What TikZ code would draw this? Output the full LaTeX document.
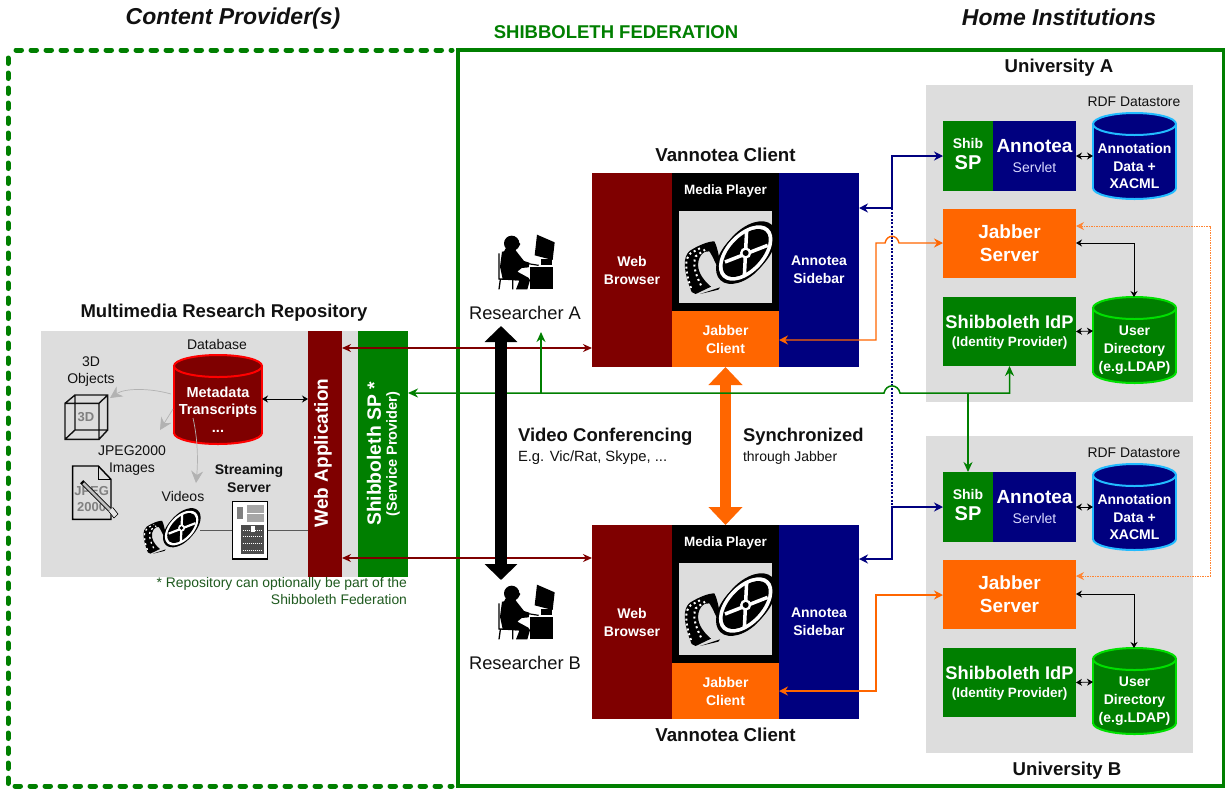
\documentclass[tikz,border=0pt]{standalone}
\usepackage{fontspec}
\setmainfont{Liberation Sans}
\usetikzlibrary{arrows.meta,calc}
\definecolor{cgreen}{HTML}{007F00}
\definecolor{cred}{HTML}{7F0000}
\definecolor{cblue}{HTML}{00007F}
\definecolor{corange}{HTML}{FF6600}
\definecolor{cgray}{HTML}{DDDDDD}
\definecolor{cfoot}{HTML}{1F5A1F}
\definecolor{ctxt}{HTML}{111111}
\definecolor{ccyan}{HTML}{22BBFF}
\definecolor{clime}{HTML}{00E000}
\newcommand\fs[2]{\fontsize{#1}{#2}\selectfont}
\tikzset{
  bx/.style={inner sep=0pt,outer sep=0pt,text=white,align=center,font=\bfseries},
  lab/.style={inner sep=0pt,outer sep=0pt,text=ctxt,align=center},
  redline/.style={{Stealth[length=9pt,width=8pt]}-{Stealth[length=9pt,width=8pt]},draw=cred,line width=1.5pt},
  greenline/.style={draw=cgreen,line width=1.5pt},
  greentip/.style={-{Stealth[length=10pt,width=9pt]}},
  blueline/.style={{Stealth[length=9pt,width=9pt]}-{Stealth[length=9pt,width=9pt]},draw=cblue,line width=1.5pt},
  orangeline/.style={{Stealth[length=9pt,width=9pt]}-{Stealth[length=9pt,width=9pt]},draw=corange,line width=1.4pt},
  blackline/.style={{Stealth[length=6pt,width=7pt]}-{Stealth[length=6pt,width=7pt]},draw=black,line width=.8pt},
  grayarrow/.style={draw=gray!60,line width=.7pt,-{Stealth[length=12pt,width=12pt]},color=gray!60},
}
\newcommand\Bx[7]{%
  \pgfmathsetmacro\bxw{(#4)-(#2)}\pgfmathsetmacro\bxh{(#5)-(#3)}%
  \pgfmathsetmacro\bxx{((#2)+(#4))/2}\pgfmathsetmacro\bxy{((#3)+(#5))/2}%
  \node[bx,#6,minimum width=\bxw pt,minimum height=\bxh pt] (#1) at (\bxx,\bxy) {#7};}
% name, x0, x1, ytop, ybottom, fill, stroke, font, text
\newcommand\Cyl[9]{%
  \pgfmathsetmacro\cx{((#2)+(#3))/2}\pgfmathsetmacro\crx{((#3)-(#2))/2}%
  \pgfmathsetmacro\cyt{(#4)+11}\pgfmathsetmacro\cyb{(#5)-11}\pgfmathsetmacro\cym{((#4)+(#5))/2+10}%
  \draw[fill=#6,draw=#7,line width=2pt] (\cx,\cyb) ellipse [x radius=\crx,y radius=11];
  \fill[#6] (#2,\cyt) rectangle (#3,\cyb);
  \draw[#7,line width=2pt] (#2,\cyt) -- (#2,\cyb) (#3,\cyt) -- (#3,\cyb);
  \draw[fill=#6,draw=#7,line width=2pt] (\cx,\cyt) ellipse [x radius=\crx,y radius=11];
  \node[bx,font=\bfseries#8] (#1) at (\cx,\cym) {#9};}
% film reel: cx, cy, scale (inner coordinates: 3x pixels of the reference crop)
\newcommand\Reel[3]{%
  \begin{scope}[shift={(#1,#2)},scale=#3]
  \begin{scope}[shift={(-50.5,-49)},scale=1/3]
    \fill[black] (50,252) .. controls (25,190) and (22,145) .. (45,128)
       .. controls (70,112) and (100,100) .. (118,100)
       .. controls (132,125) and (132,170) .. (152,212)
       .. controls (128,190) and (118,150) .. (103,130)
       .. controls (85,125) and (65,150) .. (70,180)
       .. controls (75,205) and (95,225) .. (108,236)
       -- (62,258) -- cycle;
    \fill[black] (75,258) -- (135,238) -- (130,245) -- cycle;
    \draw[white,line width=#3*2pt,dash pattern=on 2pt off 3pt] (48,240) .. controls (30,190) and (28,150) .. (48,135) -- (80,118);
    \draw[white,line width=#3*2pt,dash pattern=on 2pt off 3pt] (78,232) .. controls (62,200) and (52,170) .. (62,145) -- (90,125);
    \fill[black] (218,128) ellipse [x radius=106,y radius=62,rotate=47];
    \fill[black] (206,142) ellipse [x radius=102,y radius=62,rotate=47];
    \fill[white] (212,135) ellipse [x radius=100,y radius=58,rotate=47];
    \fill[black] (212,135) ellipse [x radius=88,y radius=47,rotate=47];
    \draw[white,line width=#3*3.5pt] (215,65) -- (208,205) (150,162) -- (278,112);
    \fill[white] (212,135) circle (17);
    \fill[black] (212,135) circle (9);
  \end{scope}
  \end{scope}}
% researcher icon (3x pixels of the crop at the given origin)
\newcommand\Person[2]{%
  \begin{scope}[shift={(#1,#2)},scale=1/3]
    \fill (65,40) circle (23);
    \fill (78,28) -- (91,42) -- (84,54) -- (72,62) -- cycle;
    \fill (50,50) -- (78,55) -- (76,66) -- (40,68) -- cycle;
    \fill (36,65)--(76,60)--(102,93)--(118,98)--(116,112)--(95,114)--(82,125)--(115,143)--(120,150)--(112,178)--(78,178)--(88,152)--(38,147)--(30,110)--cycle;
    \draw[line width=1.3pt] (27,70)--(27,147)--(80,149) (31,149)--(27,178) (68,149)--(68,178);
    \fill (120,112) rectangle (190,178);
    \draw[line width=1.2pt] (108,100) -- (146,106);
    \fill (152,86) rectangle (186,104);
    \fill (141,14)--(194,37)--(188,90)--(134,76)--cycle;
  \end{scope}}
\newcommand\Client[4]{% suffix, dy, title y, title
  \Bx{br#1}{592}{173+#2}{672}{367+#2}{fill=cred,font=\bfseries\fs{14}{18}}{Web\\Browser}
  \Bx{mp#1}{672}{173+#2}{779}{311+#2}{fill=black}{}
  \Bx{jc#1}{672}{311+#2}{779}{367+#2}{fill=corange,font=\bfseries\fs{14}{18}}{Jabber\\Client}
  \Bx{sb#1}{779}{173+#2}{859}{367+#2}{fill=cblue,font=\bfseries\fs{14}{18}}{Annotea\\Sidebar}
  \node[bx,font=\bfseries\fs{13.5}{16}] (mpt#1) at (725.5,191+#2) {Media Player};
  \Bx{mpi#1}{679}{211+#2}{772}{303+#2}{fill=cgray}{}
  \Reel{725.5}{257+#2}{1}
  \node[lab,font=\bfseries\fs{18.7}{22}] (vc#1) at (725.5,#3) {#4};
}
\newcommand\Uni[2]{% suffix, dy
  \Bx{ug#1}{926}{85+#2}{1193}{402+#2}{fill=cgray}{}
  \Bx{sh#1}{943}{121+#2}{993}{191+#2}{fill=cgreen}{}
  \node[bx,font=\bfseries\fs{14}{16}] (sht#1) at (968,143+#2) {Shib};
  \node[bx,font=\bfseries\fs{20}{22}] (shs#1) at (968,163+#2) {SP};
  \Bx{an#1}{993}{121+#2}{1076}{191+#2}{fill=cblue}{}
  \node[bx,font=\bfseries\fs{19}{22}] (ant#1) at (1034.5,146+#2) {Annotea};
  \node[bx,font=\fs{14}{16},text=white!85!blue] (ans#1) at (1034.5,167+#2) {Servlet};
  \Cyl{rd#1}{1093}{1176}{113+#2}{199+#2}{cblue}{ccyan}{\fs{14}{17.5}}{Annotation\\Data +\\XACML}
  \node[lab,font=\fs{13.9}{15}] (rt#1) at (1134,102+#2) {RDF Datastore};
  \Bx{js#1}{943}{209+#2}{1076}{278+#2}{fill=corange,font=\bfseries\fs{19}{23}}{Jabber\\Server}
  \Bx{id#1}{943}{297+#2}{1076}{366+#2}{fill=cgreen}{}
  \node[bx,font=\bfseries\fs{18.3}{20}] (idt#1) at (1009.5,322+#2) {Shibboleth IdP};
  \node[bx,font=\bfseries\fs{13.5}{16}] (ids#1) at (1009.5,343+#2) {(Identity Provider)};
  \Cyl{ud#1}{1093}{1176}{297+#2}{383+#2}{cgreen}{clime}{\fs{14}{18}}{User\\Directory\\(e.g.LDAP)}
  \coordinate (ra#1) at (1093,156+#2);
  \coordinate (ua#1) at (1093,331+#2);
  \draw[blackline] (an#1.east) -- (ra#1);
  \draw[blackline] (id#1.east) -- (ua#1);
}
\begin{document}
\begin{tikzpicture}[x=1pt,y=-1pt]
\useasboundingbox (0,0) rectangle (1225,788);
\fill[white] (0,0) rectangle (1225,788);
% federations
\draw[cgreen,line width=5pt,line cap=round,dash pattern=on 5.5pt off 9.5pt] (16,50) -- (452,50);
\draw[cgreen,line width=5pt,line cap=round,dash pattern=on 5.5pt off 9.5pt] (8,58) -- (8,786) -- (452,786);
\draw[cgreen,line width=4.5pt] (458,50) rectangle (1224,786);
\node[lab,font=\bfseries\itshape\fs{23}{27}] (tcp) at (233,19) {Content Provider(s)};
\node[lab,font=\bfseries\itshape\fs{23}{27}] (thi) at (1059,17) {Home Institutions};
\node[lab,font=\bfseries\fs{18.5}{22},text=cgreen] (tsf) at (616,32) {SHIBBOLETH FEDERATION};
\node[lab,font=\bfseries\fs{18.6}{22}] (tua) at (1059,68) {University A};
\node[lab,font=\bfseries\fs{18.6}{22}] (tub) at (1067,771) {University B};
% repository
\node[lab,font=\bfseries\fs{18.5}{22}] (trp) at (224,313) {Multimedia Research Repository};
\Bx{rep}{41}{331}{408}{577}{fill=cgray}{}
\Bx{web}{308}{331}{342}{577}{fill=cred}{}
\Bx{ssp}{358}{331}{408}{577}{fill=cgreen}{}
\node[bx,rotate=90,font=\bfseries\fs{19}{22}] (webt) at (323,453) {Web Application};
\node[bx,rotate=90,font=\bfseries\fs{19.3}{22}] (sspt) at (374,454) {Shibboleth SP *};
\node[bx,rotate=90,font=\bfseries\fs{14.6}{16}] (sspu) at (393,454) {(Service Provider)};
\node[lab,font=\fs{14}{17}] (tdb) at (217,344) {Database};
\Cyl{db}{174}{262}{355}{444}{cred}{red}{\fs{14.5}{17.5}}{Metadata\\Transcripts\\...}
\node[lab,font=\fs{14}{17}] (t3d) at (91,372) {3D\\Objects};
\node[lab,font=\fs{14}{17}] (tjp) at (132,461) {JPEG2000\\Images};
\node[lab,font=\fs{14}{17}] (tvd) at (183,496) {Videos};
\node[lab,font=\bfseries\fs{14}{18}] (tss) at (249,478) {Streaming\\Server};
% 3D cube
\begin{scope}[shift={(30,290)},scale=1/3]
  \draw[line width=1.4pt,draw=ctxt] (105,340) rectangle (207,448) (135,315) rectangle (233,420)
     (105,340)--(135,315) (207,340)--(233,315) (105,448)--(135,420) (207,448)--(233,420);
  \node[lab,text=gray,font=\bfseries\fs{13}{15}] (cube) at (168,380) {3D};
  % document
  \draw[line width=1.4pt,fill=cgray] (128,528)--(205,528)--(243,568)--(243,688)--(128,688)--cycle;
  \draw[line width=1.2pt] (205,528)--(205,568)--(243,568);
  \node[lab,text=gray,font=\bfseries\fs{13}{16}] (doc) at (185,626) {JPEG\\2000};
  \draw[line width=4.5pt,draw=black] (155,575) -- (245,665);
  \draw[line width=2.5pt,draw=gray!50] (160,580) -- (240,660);
  \draw[line width=5pt,draw=white!90!black] (240,660) -- (258,678);
  \draw[line width=.6pt] (236,664) -- (252,684) -- (264,672) -- (248,652);
  % server
  \draw[fill=white,line width=1.2pt] (608,635) rectangle (712,807);
  \fill[gray!70] (650,645) rectangle (702,695);
  \draw[white,line width=.8pt] (650,670) -- (702,670);
  \fill[gray] (622,650) rectangle (638,688);
  \fill[gray!60!black] (632,705) rectangle (702,793);
  \fill[white] (662,708) rectangle (676,725);
  \draw[white,line width=.6pt,dash pattern=on 1pt off 1pt] (638,720)--(698,720) (638,740)--(698,740) (638,760)--(698,760) (638,780)--(698,780);
  \node[inner sep=0pt,minimum width=104pt/3,minimum height=172pt/3] (srv) at (660,721) {};
\end{scope}
\Reel{169}{530.5}{.625}
\coordinate (vid) at (200,530);
\draw[gray!70!black,line width=.7pt] (vid) -- (srv.west |- vid) (srv.east |- vid) -- (web.west |- vid);
\coordinate (dbm) at (262,399);
\draw[blackline] (dbm) -- (web.west |- dbm);
% grey arrows out of the database
\coordinate (g1s) at (171,394); \coordinate (g1e) at (110,398);
\coordinate (g2s) at (173,409); \coordinate (g2e) at (160,430);
\coordinate (g3s) at (193,418); \coordinate (g3e) at (196,483);
\draw[grayarrow] (g1s) .. controls (150,388) and (125,388) .. (g1e);
\draw[grayarrow] (g2s) -- (g2e);
\draw[grayarrow] (g3s) .. controls (198,440) and (198,462) .. (g3e);
\node[lab,font=\fs{13.9}{17},text=cfoot,align=right,anchor=north east] (foot) at (407,577) {* Repository can optionally be part of the\\Shibboleth Federation};
% clients & universities
\Client{A}{0}{155}{Vannotea Client}
\Client{B}{352}{735}{Vannotea Client}
\Uni{A}{0}
\Uni{B}{351}
% researcher
\Person{490}{230}
\Person{490}{580}
\node[lab,font=\fs{18.3}{20}] (ra) at (525,313) {Researcher A};
\node[lab,font=\fs{18.3}{20}] (rb) at (525,663) {Researcher B};
% labels
\node[lab,font=\bfseries\fs{18.5}{20},anchor=west] (vct) at (518,437) {Video Conferencing};
\node[lab,font=\fs{14.8}{17},anchor=west] (vcu) at (518,458) {E.g. Vic/Rat, Skype, ...};
\node[lab,font=\bfseries\fs{18.4}{20},anchor=west] (syt) at (743,437) {Synchronized};
\node[lab,font=\fs{14}{17},anchor=west] (syu) at (743,458) {through Jabber};
% orange double arrow
\draw[corange,line width=11pt,{Triangle[length=18pt,width=33pt]}-{Triangle[length=18pt,width=33pt]}] (jcA.south) -- (mpB.north);
% red links
\coordinate (r1) at (0,348); \coordinate (r2) at (0,558);
\draw[redline] (web.east |- r1) -- (brA.west |- r1);
\draw[redline] (web.east |- r2) -- (brB.west |- r2);
% blue links
\coordinate (b1) at (892,208); \coordinate (b2) at (892,559); \coordinate (b3) at (892,507);
\draw[cblue,line width=1.3pt,dash pattern=on 2pt off 1.6pt] (b1) -- (b3);
\draw[blueline] (sbA.east |- b1) -- (b1) -- (b1 |- shA.west) -- (shA.west);
\draw[blueline] (sbB.east |- b2) -- (b2) -- (b3) -- (shB.west |- b3);
% orange links
\coordinate (o1) at (876,340); \coordinate (o2) at (876,691);
\coordinate (o3) at (943,243); \coordinate (o4) at (943,595);
\draw[orangeline] (jcA.east |- o1) -- (o1) -- (876,243) -- (885,243) .. controls (887,234) and (897,234) .. (899,243) -- (o3);
\draw[orangeline] (jcB.east |- o2) -- (o2) -- (o2 |- o4) -- (o4);
% dotted inter-server link
\coordinate (d1) at (1210,226); \coordinate (d2) at (1210,576);
\draw[corange!80!white,line width=.7pt,dash pattern=on 1.5pt off 1pt,{Stealth[length=8pt,width=8pt]}-{Stealth[length=8pt,width=8pt]}] (jsA.east |- d1) -- (d1) -- (d2) -- (jsB.east |- d2);
% black links
\coordinate (k1) at (1134,243); \coordinate (k2) at (1134,594);
\coordinate (k3) at (1134,297); \coordinate (k4) at (1134,648);
\draw[blackline] (jsA.east |- k1) -- (k1) -- (k3);
\draw[blackline] (jsB.east |- k2) -- (k2) -- (k4);
% green links
\coordinate (g0) at (0,393);
\draw[greenline,{Stealth[length=10pt,width=9pt]}-{Stealth[length=10pt,width=9pt]}] (ssp.east |- g0) -- (884,393) .. controls (886,383.5) and (898,383.5) .. (900,393) -- (idA.south |- g0) -- (idA.south);
\coordinate (g5) at (541,393); \coordinate (g6) at (541,332);
\draw[greenline,greentip] (g5) -- (g6);
\draw[greenline,greentip] (shB.north |- g0) -- (shB.north);
% black double arrow
\coordinate (v1) at (501,326); \coordinate (v2) at (501,580);
\draw[black,line width=12pt,{Triangle[length=16pt,width=32pt]}-{Triangle[length=16pt,width=32pt]}] (v1) -- (v2);
\end{tikzpicture}
\end{document}
